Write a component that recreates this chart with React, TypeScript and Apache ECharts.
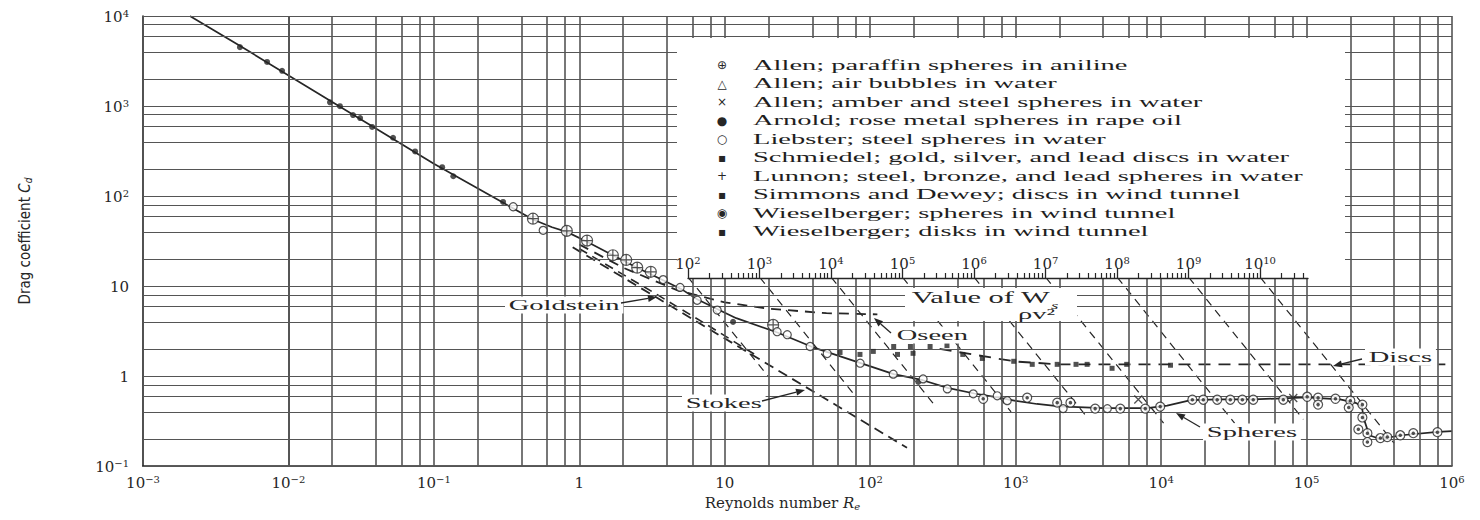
import React, { useEffect, useRef } from "react";
import * as echarts from "echarts";

// ---------------- data ----------------
const X_MIN = 1e-3;
const X_MAX = 1e6;
const Y_MIN = 0.1;
const Y_MAX = 1e4;
const gridSteps = [1, 2, 4, 6, 8];
const xGridDecades = [-3, -2, -1, 0, 1, 2, 3, 4, 5];
const yGridDecades = [-1, 0, 1, 2, 3];

// inset scale "Value of W_s / ρν²" (log10 units)
const wsMin = 2;
const wsMax = 10.67;
const wsMajor = [2, 3, 4, 5, 6, 7, 8, 9, 10];
const wsMinorSteps = [2, 3, 4, 5, 6, 7, 8, 9];

// curves [Re, Cd]
const sphereCurve: [number, number][] = [
  [0.0021, 10000], [0.0046, 4700], [0.02, 1110], [0.1, 228], [0.3, 84], [0.48, 55], [0.65, 45],
  [0.82, 40], [1.13, 31], [1.7, 22], [2.5, 16], [3.8, 11.5], [5, 9.3], [6.5, 7.1], [9, 5.5],
  [12, 4.4], [23, 3.05], [40, 2.1], [85, 1.4], [145, 1.05], [230, 0.9], [340, 0.74], [520, 0.64],
  [750, 0.58], [1000, 0.53], [1400, 0.49], [2000, 0.46], [4000, 0.44], [8000, 0.44], [11000, 0.47],
  [16000, 0.54], [25000, 0.55], [43000, 0.55], [100000, 0.58], [170000, 0.55], [220000, 0.5],
  [240000, 0.45], [250000, 0.32], [270000, 0.22], [320000, 0.2], [450000, 0.22], [800000, 0.24],
  [1000000, 0.245],
];
const stokesLine: [number, number][] = [[0.9, 27], [179, 0.16]];
const oseenLine: [number, number][] = [[1, 29], [2, 16], [4.7, 9], [10, 6.6], [20, 5.6], [50, 5.0], [112, 4.85]];
const goldsteinLine: [number, number][] = [[1, 26], [3.4, 8.1], [7, 4.0], [16, 1.75]];
const discsLine: [number, number][] = [[300, 2.0], [1000, 1.45], [2000, 1.35], [900000, 1.35]];
const wsLines: [number, number][][] = [
  [[5.6, 12.5], [19.8, 1.0]],
  [[17.4, 12.5], [79, 0.6]],
  [[54, 12.5], [270, 0.5]],
  [[167, 12.5], [930, 0.4]],
  [[519, 12.5], [3100, 0.35]],
  [[1610, 12.5], [10400, 0.3]],
  [[5000, 12.5], [32000, 0.3]],
  [[15500, 12.5], [95000, 0.33]],
  [[48100, 12.5], [400000, 0.18]],
];

// measurements [Re, Cd]
const allenParaffin: [number, number][] = [
  [0.48, 56], [0.82, 41], [1.13, 32], [1.7, 22], [2.1, 19.5], [2.5, 16], [3.1, 14.4], [21.5, 3.7],
];
const allenBubbles: [number, number][] = [];
const allenAmber: [number, number][] = [[6970, 0.55], [81000, 0.57]];
const arnold: [number, number][] = [
  [0.00464, 4510], [0.00713, 3090], [0.00904, 2460], [0.0193, 1100], [0.0226, 996],
  [0.0278, 793], [0.0311, 735], [0.0376, 586], [0.0524, 444], [0.0743, 313], [0.114, 209],
  [0.136, 166], [0.299, 86], [11.4, 4.0], [214, 0.86],
];
const liebster: [number, number][] = [
  [0.351, 76], [0.564, 41.6], [3.77, 11.8], [4.93, 9.66], [6.46, 6.95], [8.87, 5.41],
  [22.9, 3.11], [26.9, 2.88], [38.6, 2.13], [50.6, 1.78], [85.3, 1.39], [144, 1.05],
  [231, 0.93], [339, 0.72], [511, 0.635], [747, 0.604], [875, 0.533], [2120, 0.435], [4270, 0.435],
];
const schmiedel: [number, number][] = [[62, 1.83], [85, 1.74], [105, 1.88], [154, 1.74], [197, 1.79]];
const lunnon: [number, number][] = [];
const simmons: [number, number][] = [[2600, 1.35], [3100, 1.35], [5800, 1.35]];
const wieselSpheres: [number, number][] = [
  [598, 0.56], [1200, 0.575], [1930, 0.507], [2380, 0.507], [3520, 0.435], [5240, 0.435],
  [7780, 0.435], [9860, 0.458], [16400, 0.546], [19500, 0.546], [24300, 0.546], [29900, 0.546],
  [36200, 0.546], [43000, 0.546], [69200, 0.546], [101000, 0.589], [120000, 0.575],
  [158000, 0.56], [200000, 0.533], [242000, 0.482], [120000, 0.482], [195000, 0.447],
  [242000, 0.347], [227000, 0.256], [262000, 0.232], [262000, 0.185], [322000, 0.205],
  [359000, 0.21], [441000, 0.22], [542000, 0.232], [794000, 0.238],
];
const wieselDisks: [number, number][] = [
  [145, 2.13], [189, 2.13], [258, 2.13], [337, 2.18], [433, 1.74], [590, 1.57], [970, 1.46],
  [1300, 1.35], [1930, 1.35], [4600, 1.22], [11600, 1.32],
];

const legendGlyphs = ["⊕", "△", "×", "●", "○", "▪", "+", "▪", "◉", "▪"];
const legendLabels = [
  "Allen; paraffin spheres in aniline",
  "Allen; air bubbles in water",
  "Allen; amber and steel spheres in water",
  "Arnold; rose metal spheres in rape oil",
  "Liebster; steel spheres in water",
  "Schmiedel; gold, silver, and lead discs in water",
  "Lunnon; steel, bronze, and lead spheres in water",
  "Simmons and Dewey; discs in wind tunnel",
  "Wieselberger; spheres in wind tunnel",
  "Wieselberger; disks in wind tunnel",
];

// ---------------- styling ----------------
const INK = "#262626";
const GRIDC = "#555";
const SERIF = "'Liberation Serif', 'Times New Roman', serif";
const LABEL_FONT = "'DejaVu Serif', serif";
const SX = 1.9; // the scan is stretched horizontally

const expRich = {
  b: { fontFamily: LABEL_FONT, fontSize: 15, color: INK, lineHeight: 16, padding: [5, 0, 0, 0], verticalAlign: "bottom" },
  s: { fontFamily: LABEL_FONT, fontSize: 10, color: INK, lineHeight: 10, verticalAlign: "top" },
};
const fmtExp = (e: number) => {
  if (e === 0) return "{b|1}";
  if (e === 1) return "{b|10}";
  return `{b|10}{s|${e < 0 ? "−" + -e : e}}`;
};
const logLabel = (v: number) => fmtExp(Math.round(Math.log10(v)));

function arrow(x1: number, y1: number, x2: number, y2: number) {
  const a = Math.atan2(y2 - y1, x2 - x1);
  const L = 9, W = 3.5;
  const bx = x2 - L * Math.cos(a), by = y2 - L * Math.sin(a);
  return [
    { type: "line", z: 30, silent: true, shape: { x1, y1, x2: bx, y2: by }, style: { stroke: INK, lineWidth: 1.3 } },
    {
      type: "polygon", z: 30, silent: true,
      shape: { points: [[x2, y2], [bx - W * Math.sin(a), by + W * Math.cos(a)], [bx + W * Math.sin(a), by - W * Math.cos(a)]] },
      style: { fill: INK },
    },
  ];
}
function label(text: string, x: number, y: number, extra: any = {}) {
  return {
    type: "text", x, y, scaleX: SX, z: 30, silent: true,
    style: { text, fontFamily: SERIF, fontSize: 15, fill: INK, verticalAlign: "middle", backgroundColor: "#fff", padding: [1, 2], ...extra },
  };
}

function buildOption() {
  const xGrid = xGridDecades.flatMap((d) => gridSteps.map((s) => s * Math.pow(10, d))).concat([X_MAX]);
  const yGrid = yGridDecades.flatMap((d) => gridSteps.map((s) => s * Math.pow(10, d))).concat([Y_MAX]);
  const wsMinor = wsMajor.flatMap((e) => wsMinorSteps.map((s) => e + Math.log10(s))).filter((v) => v < wsMax);

  const dashed = (name: string, data: [number, number][], w: number, dash: number[]) => ({
    type: "line", name, data, showSymbol: false, symbol: "none", silent: true, z: 3,
    lineStyle: { color: INK, width: w, type: dash },
  });
  const scatter = (name: string, data: [number, number][], symbol: string, size: number, itemStyle: any) => ({
    type: "scatter", name, data, symbol, symbolSize: size, itemStyle, z: 5, silent: true,
  });
  const openStyle = { color: "#fff", borderColor: INK, borderWidth: 1.2 };

  const legendEls: any[] = [];
  legendLabels.forEach((t, i) => {
    const y = 65 + 18.5 * i;
    legendEls.push({
      type: "text", x: 722, y, z: 21, silent: true,
      style: { text: legendGlyphs[i], fontFamily: "'DejaVu Sans', sans-serif", fontSize: 12, fill: INK, align: "center", verticalAlign: "middle" },
    });
    legendEls.push({
      type: "text", x: 753, y, z: 21, silent: true, scaleX: SX,
      style: { text: t, fontFamily: SERIF, fontSize: 15, fill: "#1e1e1e", verticalAlign: "middle" },
    });
  });

  return {
    animation: false,
    backgroundColor: "#fff",
    grid: [
      { left: 143, right: 28, top: 16, bottom: 47 },
      { left: 688, width: 620, top: 268, height: 10 },
    ],
    xAxis: [
      {
        type: "log", logBase: 10, min: X_MIN, max: X_MAX, gridIndex: 0,
        axisLine: { show: true, onZero: false, lineStyle: { color: INK, width: 1.6 } },
        axisTick: { show: false }, splitLine: { show: false }, minorSplitLine: { show: false },
        axisLabel: { formatter: logLabel, rich: expRich, margin: 8 },
        name: "{n|Reynolds number }{it|R}{sub|e}",
        nameLocation: "middle", nameGap: 28,
        nameTextStyle: {
          padding: [0, 30, 0, 0],
          rich: {
            n: { fontFamily: LABEL_FONT, fontSize: 15, color: INK, lineHeight: 16, padding: [0, 0, 5, 0], verticalAlign: "top" },
            it: { fontFamily: LABEL_FONT, fontSize: 15, fontStyle: "italic", color: INK, lineHeight: 16, padding: [0, 0, 5, 0], verticalAlign: "top" },
            sub: { fontFamily: LABEL_FONT, fontSize: 10, fontStyle: "italic", color: INK, lineHeight: 10, verticalAlign: "bottom" },
          },
        },
      },
      {
        type: "value", gridIndex: 1, min: wsMin, max: wsMax, position: "bottom", z: 25,
        axisLine: { show: true, onZero: false, lineStyle: { color: INK, width: 1.3 } },
        axisTick: { show: true, inside: true, length: 10, customValues: wsMajor, lineStyle: { color: INK, width: 1.3 } },
        axisLabel: { show: true, inside: true, margin: 7, customValues: wsMajor, formatter: (v: number) => fmtExp(Math.round(v)), rich: expRich },
        splitLine: { show: false },
      },
      {
        type: "value", gridIndex: 1, min: wsMin, max: wsMax, position: "bottom", z: 25,
        axisLine: { show: false },
        axisTick: { show: true, inside: true, length: 5, customValues: wsMinor, lineStyle: { color: INK, width: 1.2 } },
        axisLabel: { show: false }, splitLine: { show: false },
      },
    ],
    yAxis: [
      {
        type: "log", logBase: 10, min: Y_MIN, max: Y_MAX, gridIndex: 0,
        axisLine: { show: true, onZero: false, lineStyle: { color: INK, width: 1.6 } },
        axisTick: { show: false }, splitLine: { show: false },
        axisLabel: { formatter: logLabel, rich: expRich, margin: 14 },
        name: "{n|Drag coefficient }{it|C}{sub|d}",
        nameLocation: "middle", nameGap: 110, nameRotate: 90,
        nameTextStyle: {
          rich: {
            n: { fontFamily: "'Liberation Sans Narrow', 'DejaVu Sans Condensed', sans-serif", fontSize: 15, color: INK, lineHeight: 16, padding: [0, 0, 4, 0], verticalAlign: "top" },
            it: { fontFamily: "'Liberation Sans Narrow', 'DejaVu Sans Condensed', sans-serif", fontSize: 15, fontStyle: "italic", color: INK, lineHeight: 16, padding: [0, 0, 4, 0], verticalAlign: "top" },
            sub: { fontFamily: "'Liberation Sans Narrow', 'DejaVu Sans Condensed', sans-serif", fontSize: 10, fontStyle: "italic", color: INK, lineHeight: 10, verticalAlign: "bottom" },
          },
        },
      },
      { type: "value", gridIndex: 1, min: 0, max: 1, show: false },
    ],
    series: [
      {
        type: "line", name: "grid", data: [], silent: true, z: 1,
        markLine: {
          silent: true, symbol: ["none", "none"], label: { show: false }, animation: false,
          data: [
            ...xGrid.map((v) => ({ xAxis: v, lineStyle: { color: GRIDC, width: 1.6, type: "solid" } })),
            ...yGrid.map((v) => ({ yAxis: v, lineStyle: { color: GRIDC, width: 1.2, type: "solid" } })),
          ],
        },
      },
      { type: "line", name: "Spheres", data: sphereCurve, showSymbol: false, symbol: "none", silent: true, z: 4, smooth: false, lineStyle: { color: INK, width: 1.7, join: "round" } },
      dashed("Stokes", stokesLine, 1.8, [10, 6]),
      dashed("Oseen", oseenLine, 1.8, [10, 7]),
      dashed("Goldstein", goldsteinLine, 1.6, [9, 6]),
      dashed("Discs", discsLine, 1.8, [12, 8]),
      ...wsLines.map((l, i) => dashed(`Ws ${wsMajor[i]}`, l, 1.2, [8, 6])),
      scatter(legendLabels[0], allenParaffin, "path://M10,0A10,10,0,1,1,-10,0A10,10,0,1,1,10,0ZM-10,0L10,0M0,-10L0,10", 11, openStyle),
      scatter(legendLabels[1], allenBubbles, "triangle", 9, openStyle),
      scatter(legendLabels[2], allenAmber, "path://M-5,-5L5,5M-5,5L5,-5", 8, { color: "none", borderColor: INK, borderWidth: 1.3 }),
      scatter(legendLabels[3], arnold, "circle", 6, { color: INK }),
      scatter(legendLabels[4], liebster, "circle", 8, openStyle),
      scatter(legendLabels[5], schmiedel, "rect", 5, { color: INK }),
      scatter(legendLabels[6], lunnon, "path://M-5,0L5,0M0,-5L0,5", 8, { color: "none", borderColor: INK, borderWidth: 1.3 }),
      scatter(legendLabels[7], simmons, "rect", 5, { color: INK }),
      scatter(legendLabels[8], wieselSpheres, "circle", 9, openStyle),
      { ...scatter(legendLabels[8] + " (centre)", wieselSpheres, "circle", 3.5, { color: INK }), z: 6 },
      scatter(legendLabels[9], wieselDisks, "rect", 5, { color: INK }),
    ],
    graphic: {
      elements: [
        { type: "rect", z: 20, silent: true, shape: { x: 677, y: 38, width: 668, height: 240 }, style: { fill: "#fff" } },
        ...legendEls,
        label("Goldstein", 505, 305),
        ...arrow(621, 303, 657, 297),
        label("Oseen", 893, 335),
        ...arrow(891, 333, 874, 318),
        label("Stokes", 682, 403),
        ...arrow(762, 401, 805, 390),
        label("Spheres", 1203, 432),
        ...arrow(1200, 427, 1176, 413),
        label("Discs", 1365, 357),
        ...arrow(1362, 359, 1333, 366),
        {
          type: "rect", z: 29, silent: true, shape: { x: 905, y: 288, width: 172, height: 33 }, style: { fill: "#fff" },
        },
        label("Value of W", 908, 297, { fontSize: 16, backgroundColor: "transparent" }),
        label("s", 1051, 305, { fontSize: 10, fontStyle: "italic", backgroundColor: "transparent", padding: 0 }),
        label("ρv²", 1018, 314, { backgroundColor: "transparent", padding: 0 }),
      ],
    },
  };
}

export default function App() {
  const ref = useRef<HTMLDivElement>(null);
  useEffect(() => {
    if (!ref.current) return;
    const chart = echarts.init(ref.current, null, { renderer: "svg" });
    chart.setOption(buildOption() as any);
    return () => chart.dispose();
  }, []);
  return (
    <div
      ref={ref}
      style={{ position: "absolute", left: 0, top: 0, width: 1480, height: 520, background: "#fff" }}
    />
  );
}
